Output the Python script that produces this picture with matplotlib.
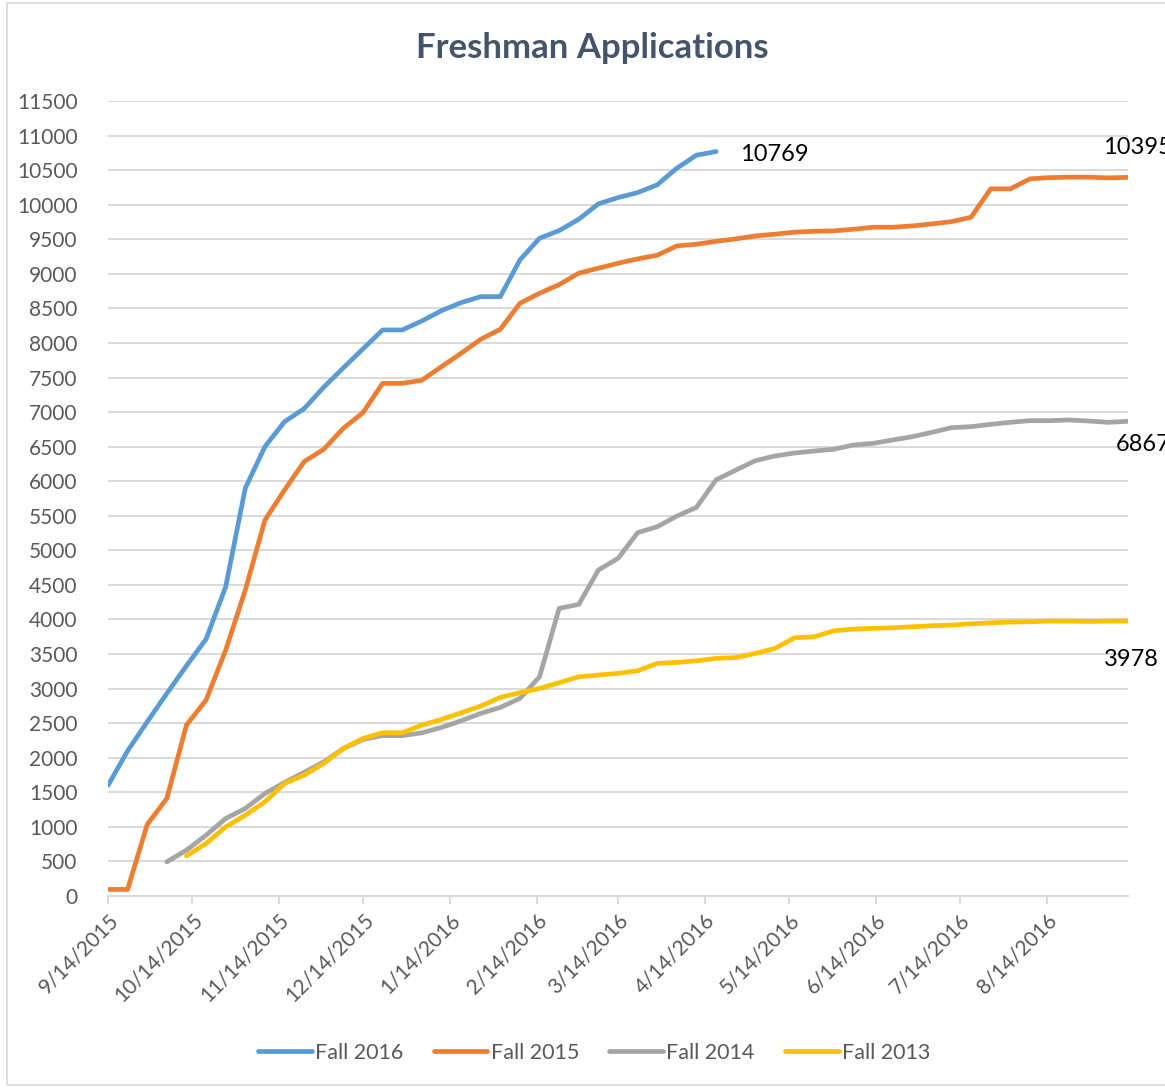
import numpy as np
import pandas as pd
import matplotlib
matplotlib.use("Agg")
import matplotlib.pyplot as plt
from matplotlib.patches import Rectangle

plt.rcParams['font.family'] = ['Lato', 'DejaVu Sans']

# weekly report dates
dates = pd.date_range('2015-09-14', periods=53, freq='7D')

# applications (cumulative)
fall2016 = [1600, 2100, 2520, 2930, 3330, 3716, 4473, 5900, 6500, 6861,
            7050, 7360, 7640, 7915, 8188, 8188, 8318, 8467, 8583, 8670,
            8670, 9201, 9515, 9625, 9790, 10012, 10102, 10175, 10287, 10528,
            10716, 10769]
fall2015 = [95, 95, 1035, 1411, 2472, 2834, 3557, 4425, 5438, 5872,
            6283, 6462, 6766, 6992, 7416, 7416, 7460, 7657, 7850, 8053,
            8198, 8574, 8719, 8844, 9009, 9081, 9153, 9216, 9269, 9404,
            9428, 9470, 9505, 9548, 9573, 9602, 9616, 9621, 9645, 9674,
            9674, 9693, 9722, 9755, 9819, 10229, 10229, 10374, 10392, 10398,
            10398, 10388, 10395]
fall2014 = [494, 663, 880, 1121, 1266, 1483, 1642, 1790, 1940, 2134,
            2265, 2320, 2320, 2360, 2438, 2534, 2641, 2728, 2858, 3171,
            4160, 4218, 4715, 4884, 5255, 5342, 5496, 5622, 6020, 6160,
            6297, 6365, 6408, 6437, 6462, 6524, 6548, 6596, 6644, 6707,
            6774, 6789, 6823, 6852, 6876, 6876, 6886, 6871, 6852, 6867]
fall2013 = [580, 760, 1000, 1169, 1362, 1628, 1748, 1917, 2134, 2279,
            2361, 2361, 2472, 2554, 2650, 2747, 2873, 2940, 3003, 3084,
            3171, 3196, 3220, 3258, 3365, 3379, 3402, 3437, 3448, 3509,
            3581, 3735, 3750, 3836, 3861, 3871, 3880, 3895, 3909, 3919,
            3938, 3952, 3962, 3967, 3977, 3977, 3972, 3977, 3978]

tick_dates = ['2015-09-14', '2015-10-14', '2015-11-14', '2015-12-14',
              '2016-01-14', '2016-02-14', '2016-03-14', '2016-04-14',
              '2016-05-14', '2016-06-14', '2016-07-14', '2016-08-14']

series = [
    ('Fall 2016', dates[:len(fall2016)], fall2016, '#5B9BD5'),
    ('Fall 2015', dates[:len(fall2015)], fall2015, '#ED7D31'),
    ('Fall 2014', dates[53 - len(fall2014):], fall2014, '#A5A5A5'),
    ('Fall 2013', dates[53 - len(fall2013):], fall2013, '#FFC000'),
]

fig = plt.figure(figsize=(11.65, 10.88), dpi=100)
ax = fig.add_axes([108 / 1165, 1 - 896 / 1088, 1020 / 1165, 795 / 1088])

for name, x, y, c in series:
    ax.plot(x, y, color=c, lw=3.4, label=name, solid_capstyle='round',
            solid_joinstyle='round')

# end-of-line labels
lbl = dict(fontsize=17, color='black', textcoords='offset pixels')
ax.annotate(str(fall2016[-1]), (dates[len(fall2016) - 1], fall2016[-1]),
            xytext=(24, -3), ha='left', va='center', **lbl)
ax.annotate(str(fall2015[-1]), (dates[-1], fall2015[-1]),
            xytext=(-25, 30), ha='left', va='center', **lbl)
ax.annotate(str(fall2014[-1]), (dates[-1], fall2014[-1]),
            xytext=(-12, -23), ha='left', va='center', **lbl)
ax.annotate(str(fall2013[-1]), (dates[-1], fall2013[-1]),
            xytext=(3, -39), ha='center', va='center', **lbl)

ax.set_ylim(0, 11500)
ax.set_yticks(np.arange(0, 11501, 500))
ax.set_xlim(dates[0], dates[-1])
xt = pd.to_datetime(tick_dates)
ax.set_xticks(xt)
ax.set_xticklabels([f'{d.month}/{d.day}/{d.year}' for d in xt],
                   rotation=45, ha='right', rotation_mode='anchor')

ax.grid(axis='y', color='#D9D9D9', lw=1.4)
ax.set_axisbelow(True)
for s in ['top', 'right', 'left']:
    ax.spines[s].set_visible(False)
ax.spines['bottom'].set_color('#D9D9D9')
ax.spines['bottom'].set_linewidth(1.4)
ax.tick_params(axis='y', length=0, labelsize=15, labelcolor='#595959', pad=22)
ax.tick_params(axis='x', length=6, width=1.4, color='#D9D9D9', labelsize=15,
               labelcolor='#595959', pad=4)

fig.text(592 / 1165, 1 - 48 / 1088, 'Freshman Applications', ha='center',
         va='center', fontsize=25, fontweight='bold', color='#44546A')

fig.legend(loc='center', bbox_to_anchor=(0.51, 1 - 1053 / 1088), ncol=4,
           frameon=False, fontsize=15.5, handlelength=2.5, handletextpad=0.15,
           columnspacing=1.4, labelcolor='#595959')

fig.patches.append(Rectangle((7 / 1165, 3 / 1088), 1.0, 1082 / 1088,
                             transform=fig.transFigure, fill=False,
                             edgecolor='#D9D9D9', lw=1.2))

fig.savefig('out.png', dpi=100)
